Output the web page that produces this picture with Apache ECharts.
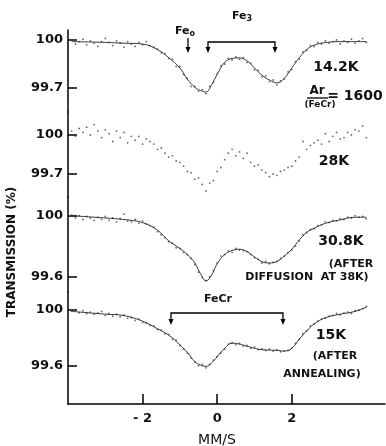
<!DOCTYPE html>
<html><head><meta charset="utf-8">
<script src="https://cdn.jsdelivr.net/npm/echarts@6/dist/echarts.min.js"></script>
<style>html,body{margin:0;padding:0;background:#fff}#c{width:386px;height:446px}</style>
</head><body><div id="c"></div>
<script>
// Velocity channels (mm/s)
const velocity = [-3.9,-3.8,-3.7,-3.6,-3.5,-3.4,-3.3,-3.2,-3.1,-3.0,
 -2.9,-2.8,-2.7,-2.6,-2.5,-2.4,-2.3,-2.2,-2.1,-2.0,
 -1.9,-1.8,-1.7,-1.6,-1.5,-1.4,-1.3,-1.2,-1.1,-1.0,
 -0.9,-0.8,-0.7,-0.6,-0.5,-0.4,-0.3,-0.2,-0.1,0.0,
 0.1,0.2,0.3,0.4,0.5,0.6,0.7,0.8,0.9,1.0,
 1.1,1.2,1.3,1.4,1.5,1.6,1.7,1.8,1.9,2.0,
 2.1,2.2,2.3,2.4,2.5,2.6,2.7,2.8,2.9,3.0,
 3.1,3.2,3.3,3.4,3.5,3.6,3.7,3.8,3.9,4.0];

// Measured transmission (%)
const spec14K = [100.00,99.975,99.99,100.005,99.97,99.995,99.98,99.96,99.99,100.01,
 99.985,99.965,99.995,99.98,99.955,99.99,99.975,99.96,99.985,99.97,
 99.99,99.965,99.955,99.945,99.92,99.915,99.885,99.88,99.835,99.835,
 99.785,99.76,99.71,99.71,99.68,99.69,99.665,99.71,99.735,99.79,
 99.84,99.85,99.885,99.875,99.895,99.88,99.89,99.86,99.855,99.815,
 99.81,99.77,99.775,99.74,99.75,99.72,99.745,99.755,99.8,99.815,
 99.865,99.88,99.925,99.935,99.965,99.96,99.985,99.975,99.995,99.98,
 99.99,100.0,99.975,99.995,99.985,100.005,99.98,99.995,100.01,99.985];
const spec28K = [100.03,99.99,100.05,100.02,100.06,100.0,100.08,100.03,99.98,100.04,
 100.01,99.95,100.03,99.98,100.02,99.94,99.99,99.96,99.99,99.93,
 99.97,99.95,99.93,99.89,99.90,99.86,99.83,99.84,99.80,99.79,
 99.76,99.72,99.71,99.66,99.67,99.62,99.57,99.63,99.65,99.72,
 99.75,99.81,99.86,99.89,99.84,99.87,99.82,99.86,99.79,99.76,
 99.77,99.73,99.71,99.68,99.70,99.69,99.72,99.73,99.75,99.76,
 99.80,99.83,99.95,99.89,99.92,99.94,99.96,99.93,100.01,99.95,
 99.99,100.02,99.97,99.98,100.02,100.0,100.04,100.03,100.07,99.98];
const spec308K = [100.005,99.985,100.0,99.975,99.995,99.985,99.97,99.99,99.975,99.995,
 99.97,99.985,99.96,99.98,100.01,99.965,99.96,99.975,99.95,99.965,
 99.945,99.935,99.925,99.895,99.875,99.855,99.83,99.82,99.79,99.785,
 99.76,99.745,99.72,99.68,99.63,99.595,99.575,99.6,99.64,99.69,
 99.735,99.745,99.77,99.76,99.785,99.775,99.77,99.765,99.745,99.725,
 99.715,99.69,99.7,99.685,99.695,99.7,99.72,99.735,99.76,99.775,
 99.8,99.835,99.875,99.89,99.91,99.915,99.935,99.94,99.96,99.955,
 99.97,99.965,99.98,99.975,99.99,99.985,100.0,99.99,99.995,99.98];
const spec15K = [99.99,100.0,99.98,99.995,99.975,99.985,99.97,99.98,99.99,99.96,
 99.975,99.955,99.97,99.95,99.965,99.94,99.945,99.925,99.935,99.91,
 99.905,99.89,99.885,99.86,99.855,99.83,99.825,99.79,99.785,99.745,
 99.72,99.69,99.655,99.625,99.6,99.61,99.585,99.61,99.64,99.665,
 99.69,99.72,99.755,99.765,99.75,99.76,99.74,99.745,99.725,99.735,
 99.715,99.72,99.71,99.72,99.705,99.715,99.7,99.705,99.71,99.725,
 99.76,99.79,99.83,99.85,99.885,99.9,99.92,99.935,99.94,99.955,
 99.96,99.975,99.965,99.98,99.985,99.975,99.995,100.0,100.01,100.025];

// Fitted curves
const fitVelocity = [-3.9,-3.0,-2.5,-2.0,-1.6,-1.3,-1.0,-0.8,-0.6,-0.45,-0.3,-0.15,0,0.2,0.4,0.6,0.8,1.0,1.2,1.4,1.6,1.8,2.0,2.2,2.4,2.6,2.9,3.3,3.7,4.0];
const fit14K = [99.99,99.985,99.98,99.975,99.94,99.89,99.825,99.755,99.705,99.685,99.675,99.72,99.785,99.86,99.885,99.888,99.87,99.825,99.78,99.75,99.732,99.76,99.825,99.888,99.94,99.968,99.984,99.99,99.99,99.99];
const fit308K = [100.0,99.985,99.975,99.955,99.905,99.835,99.785,99.745,99.69,99.62,99.572,99.61,99.685,99.745,99.772,99.78,99.765,99.73,99.698,99.69,99.70,99.735,99.78,99.84,99.89,99.918,99.95,99.973,99.99,99.99];
const fit15K = [99.99,99.97,99.96,99.92,99.865,99.82,99.75,99.695,99.63,99.605,99.595,99.62,99.665,99.725,99.762,99.755,99.74,99.725,99.715,99.712,99.71,99.705,99.725,99.79,99.85,99.9,99.945,99.97,99.99,100.02];

// Tick labels
const yTicks142 = [100, 99.7];
const yTicks28 = [100, 99.7];
const yTicks308 = [100, 99.6];
const yTicks15 = [100, 99.6];
const xTicks = [-2, 0, 2];

const panels = [
  {dots: spec14K, fit: fit14K, ticks: yTicks142, top: 30, height: 82, refPx: 40, pxPer: 160},
  {dots: spec28K, fit: null, ticks: yTicks28, top: 112, height: 85, refPx: 135, pxPer: 130},
  {dots: spec308K, fit: fit308K, ticks: yTicks308, top: 197, height: 95, refPx: 215.7, pxPer: 152.5},
  {dots: spec15K, fit: fit15K, ticks: yTicks15, top: 292, height: 112, refPx: 310, pxPer: 139.25}
];

const FONT = 'DejaVu Sans';
const grids = [], xAxes = [], yAxes = [], series = [];
panels.forEach((p, i) => {
  grids.push({left: 68, width: 317, top: p.top, height: p.height});
  const last = i === panels.length - 1;
  xAxes.push({
    type: 'value', gridIndex: i, min: -4, max: 4.5, show: last,
    axisLine: {show: last, onZero: false, lineStyle: {color: '#000', width: 1.5}},
    axisTick: {show: last, inside: true, length: 10, customValues: xTicks, lineStyle: {color: '#000', width: 1.5}},
    axisLabel: {show: last, customValues: xTicks, margin: 8, fontFamily: FONT, fontWeight: 'bold', fontSize: 13, color: '#111',
      formatter: v => v < 0 ? '- ' + Math.abs(v) : String(v)},
    splitLine: {show: false}
  });
  const maxV = 100 + (p.refPx - p.top) / p.pxPer;
  const minV = 100 - (p.top + p.height - p.refPx) / p.pxPer;
  yAxes.push({
    type: 'value', gridIndex: i, min: minV, max: maxV, position: 'left',
    axisLine: {show: true, onZero: false, lineStyle: {color: '#000', width: 1.5}},
    axisTick: {show: true, inside: true, length: 9, customValues: p.ticks, lineStyle: {color: '#000', width: 1.5}},
    axisLabel: {customValues: p.ticks, margin: 5, fontFamily: FONT, fontWeight: 'bold', fontSize: 13, color: '#111',
      formatter: v => Math.abs(v - 100) < 1e-6 ? '100' : v.toFixed(1)},
    splitLine: {show: false}
  });
  series.push({
    type: 'scatter', xAxisIndex: i, yAxisIndex: i, symbolSize: 1.8, silent: true,
    itemStyle: {color: '#444'},
    data: velocity.map((v, k) => [v, p.dots[k]])
  });
  if (p.fit) {
    series.push({
      type: 'line', xAxisIndex: i, yAxisIndex: i, smooth: 0.4, symbol: 'none', silent: true,
      lineStyle: {color: '#222', width: 0.9},
      data: fitVelocity.map((v, k) => [v, p.fit[k]])
    });
  }
});

function txt(x, y, text, size, extra) {
  return {type: 'text', x: x, y: y, silent: true,
    style: Object.assign({text: text, fontFamily: FONT, fontWeight: 'bold', fontSize: size, fill: '#111',
      align: 'center', verticalAlign: 'middle'}, extra || {})};
}
function head(x, y) {
  return {type: 'polygon', silent: true, shape: {points: [[x - 2.5, y - 6], [x + 2.5, y - 6], [x, y]]}, style: {fill: '#000'}};
}
function pl(points) {
  return {type: 'polyline', silent: true, shape: {points: points}, style: {stroke: '#000', lineWidth: 1.3, fill: null}};
}

const rich = {b: {fontFamily: FONT, fontWeight: 'bold', fontSize: 11, fill: '#111'}, s: {fontFamily: FONT, fontWeight: 'bold', fontSize: 8, fill: '#111', padding: [6, 0, 0, 0]}};

const graphics = [
  {type: 'text', x: 12, y: 252, rotation: Math.PI / 2, silent: true,
    style: {text: 'TRANSMISSION (%)', fontFamily: FONT, fontWeight: 'bold', fontSize: 12, fill: '#111', align: 'center', verticalAlign: 'middle'}},
  {type: 'text', x: 217, y: 440, silent: true,
    style: {text: 'MM/S', fontFamily: FONT, fontSize: 14, fill: '#111', align: 'center', verticalAlign: 'middle'}},
  {type: 'text', x: 185, y: 31, silent: true, style: {text: '{b|Fe}{s|o}', rich: rich, align: 'center', verticalAlign: 'middle'}},
  pl([[188, 38], [188, 50]]), head(188, 53),
  {type: 'text', x: 242, y: 16, silent: true, style: {text: '{b|Fe}{s|3}', rich: rich, align: 'center', verticalAlign: 'middle'}},
  pl([[208, 50], [208, 42], [275, 42], [275, 50]]), head(208, 53), head(275, 53),
  txt(336, 67, '14.2K', 14),
  txt(317, 91, 'Ar', 12),
  {type: 'line', silent: true, shape: {x1: 307, y1: 98, x2: 328, y2: 98}, style: {stroke: '#000', lineWidth: 1.3}},
  txt(320, 105, '(FeCr)', 9),
  txt(355, 96, '= 1600', 14),
  txt(334, 161, '28K', 14),
  txt(341, 241, '30.8K', 14),
  txt(351, 264, '(AFTER', 11),
  txt(307, 277, 'DIFFUSION  AT 38K)', 11),
  txt(218, 299, 'FeCr', 11),
  pl([[171, 322], [171, 313], [283, 313], [283, 322]]), head(171, 325), head(283, 325),
  txt(331, 335, '15K', 14),
  txt(335, 356, '(AFTER', 11),
  txt(322, 374, 'ANNEALING)', 11)
];

const chart = echarts.init(document.getElementById('c'), null, {renderer: 'canvas'});
chart.setOption({
  animation: false,
  backgroundColor: '#fff',
  grid: grids, xAxis: xAxes, yAxis: yAxes, series: series,
  graphic: graphics
});
</script></body></html>
